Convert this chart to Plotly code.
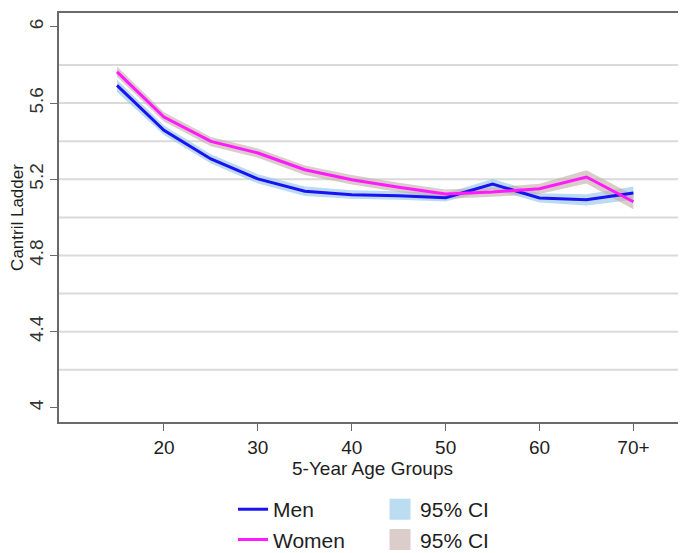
import plotly.graph_objects as go

# ---- data ----
ages = [15, 20, 25, 30, 35, 40, 45, 50, 55, 60, 65, 70]
men = [5.693, 5.457, 5.307, 5.202, 5.137, 5.119, 5.114, 5.103, 5.175, 5.102, 5.093, 5.128]
men_lo = [5.658, 5.432, 5.283, 5.178, 5.113, 5.098, 5.093, 5.083, 5.148, 5.078, 5.063, 5.093]
men_hi = [5.722, 5.482, 5.332, 5.227, 5.162, 5.142, 5.137, 5.127, 5.202, 5.127, 5.122, 5.162]
women = [5.764, 5.527, 5.399, 5.338, 5.250, 5.198, 5.158, 5.123, 5.133, 5.151, 5.212, 5.082]
women_lo = [5.738, 5.503, 5.373, 5.313, 5.223, 5.173, 5.133, 5.098, 5.108, 5.123, 5.178, 5.043]
women_hi = [5.792, 5.552, 5.422, 5.362, 5.272, 5.222, 5.182, 5.147, 5.157, 5.177, 5.247, 5.117]

x_tick_vals = [20, 30, 40, 50, 60, 70]
x_tick_text = ["20", "30", "40", "50", "60", "70+"]
y_tick_vals = [4, 4.4, 4.8, 5.2, 5.6, 6]
y_tick_text = ["4", "4.4", "4.8", "5.2", "5.6", "6"]
grid_vals = [4.2, 4.4, 4.6, 4.8, 5.0, 5.2, 5.4, 5.6, 5.8]

MEN_C = "#1a12f0"
WOMEN_C = "#ff1aff"
MEN_BAND = "rgba(150,200,236,0.65)"
WOMEN_BAND = "rgba(196,172,168,0.62)"
MEN_SW = "#bcdcf1"
WOMEN_SW = "#dccdca"

NARROW = "Liberation Sans Narrow, Arial Narrow, Liberation Sans, Arial, sans-serif"
REG = "Liberation Sans, Arial, sans-serif"

fig = go.Figure()

# confidence bands
fig.add_trace(go.Scatter(
    x=ages + ages[::-1], y=men_hi + men_lo[::-1], fill="toself",
    fillcolor=MEN_BAND, line=dict(width=0), mode="lines",
    hoverinfo="skip", showlegend=False))
fig.add_trace(go.Scatter(
    x=ages + ages[::-1], y=women_hi + women_lo[::-1], fill="toself",
    fillcolor=WOMEN_BAND, line=dict(width=0), mode="lines",
    hoverinfo="skip", showlegend=False))

# lines
fig.add_trace(go.Scatter(x=ages, y=men, mode="lines", name="Men",
                         line=dict(color=MEN_C, width=3), legend="legend",
                         legendgroup="a"))
fig.add_trace(go.Scatter(x=ages, y=women, mode="lines", name="Women",
                         line=dict(color=WOMEN_C, width=3), legend="legend",
                         legendgroup="b"))

# legend swatches for CI
fig.add_trace(go.Scatter(x=[None], y=[None], mode="markers", name="95% CI",
                         marker=dict(symbol="square", size=16, color=MEN_SW,
                                     line=dict(color=MEN_SW, width=9)),
                         legend="legend2", legendgroup="c"))
fig.add_trace(go.Scatter(x=[None], y=[None], mode="markers", name="95% CI",
                         marker=dict(symbol="square", size=16, color=WOMEN_SW,
                                     line=dict(color=WOMEN_SW, width=9)),
                         legend="legend2", legendgroup="d"))

shapes = []
for g in grid_vals:
    shapes.append(dict(type="line", xref="paper", yref="y", x0=0, x1=1,
                       y0=g, y1=g, layer="below",
                       line=dict(color="#dadada", width=2)))

# the page body adds an 8px offset, so the figure is 8px smaller and margins shifted
fig.update_layout(
    width=678, height=545,
    margin=dict(l=51, r=0, t=5, b=131, autoexpand=False),
    paper_bgcolor="white", plot_bgcolor="white",
    shapes=shapes,
    xaxis=dict(range=[8.82, 75.6], tickvals=x_tick_vals, ticktext=x_tick_text,
               automargin=False,
               showgrid=False, zeroline=False, showline=True, mirror=True,
               linecolor="#6a6a6a", linewidth=1.5, ticks="outside", ticklen=7,
               tickcolor="#6a6a6a", tickfont=dict(family=NARROW, size=19, color="#1e1e1e"),
               title=dict(text="5-Year Age Groups", standoff=2,
                          font=dict(family=NARROW, size=19, color="#1e1e1e"))),
    yaxis=dict(range=[3.926, 6.073], tickvals=y_tick_vals, ticktext=y_tick_text,
               automargin=False,
               showgrid=False, zeroline=False, showline=True,
               linecolor="#6a6a6a", linewidth=1.5, ticks="outside", ticklen=7,
               tickcolor="#6a6a6a", tickangle=-90,
               tickfont=dict(family=REG, size=19, color="#333333"),
               title=dict(text="Cantril Ladder", standoff=0,
                          font=dict(family=REG, size=17, color="#1e1e1e"))),
    legend=dict(x=0.2775, y=-0.164, xanchor="left", yanchor="top",
                font=dict(family=NARROW, size=21, color="#1e1e1e"),
                traceorder="grouped", tracegroupgap=0, bgcolor="rgba(0,0,0,0)"),
    legend2=dict(x=0.512, y=-0.164, xanchor="left", yanchor="top",
                 font=dict(family=NARROW, size=21, color="#1e1e1e"),
                 traceorder="grouped", tracegroupgap=0, bgcolor="rgba(0,0,0,0)"),
)

fig.write_html("out.html")
